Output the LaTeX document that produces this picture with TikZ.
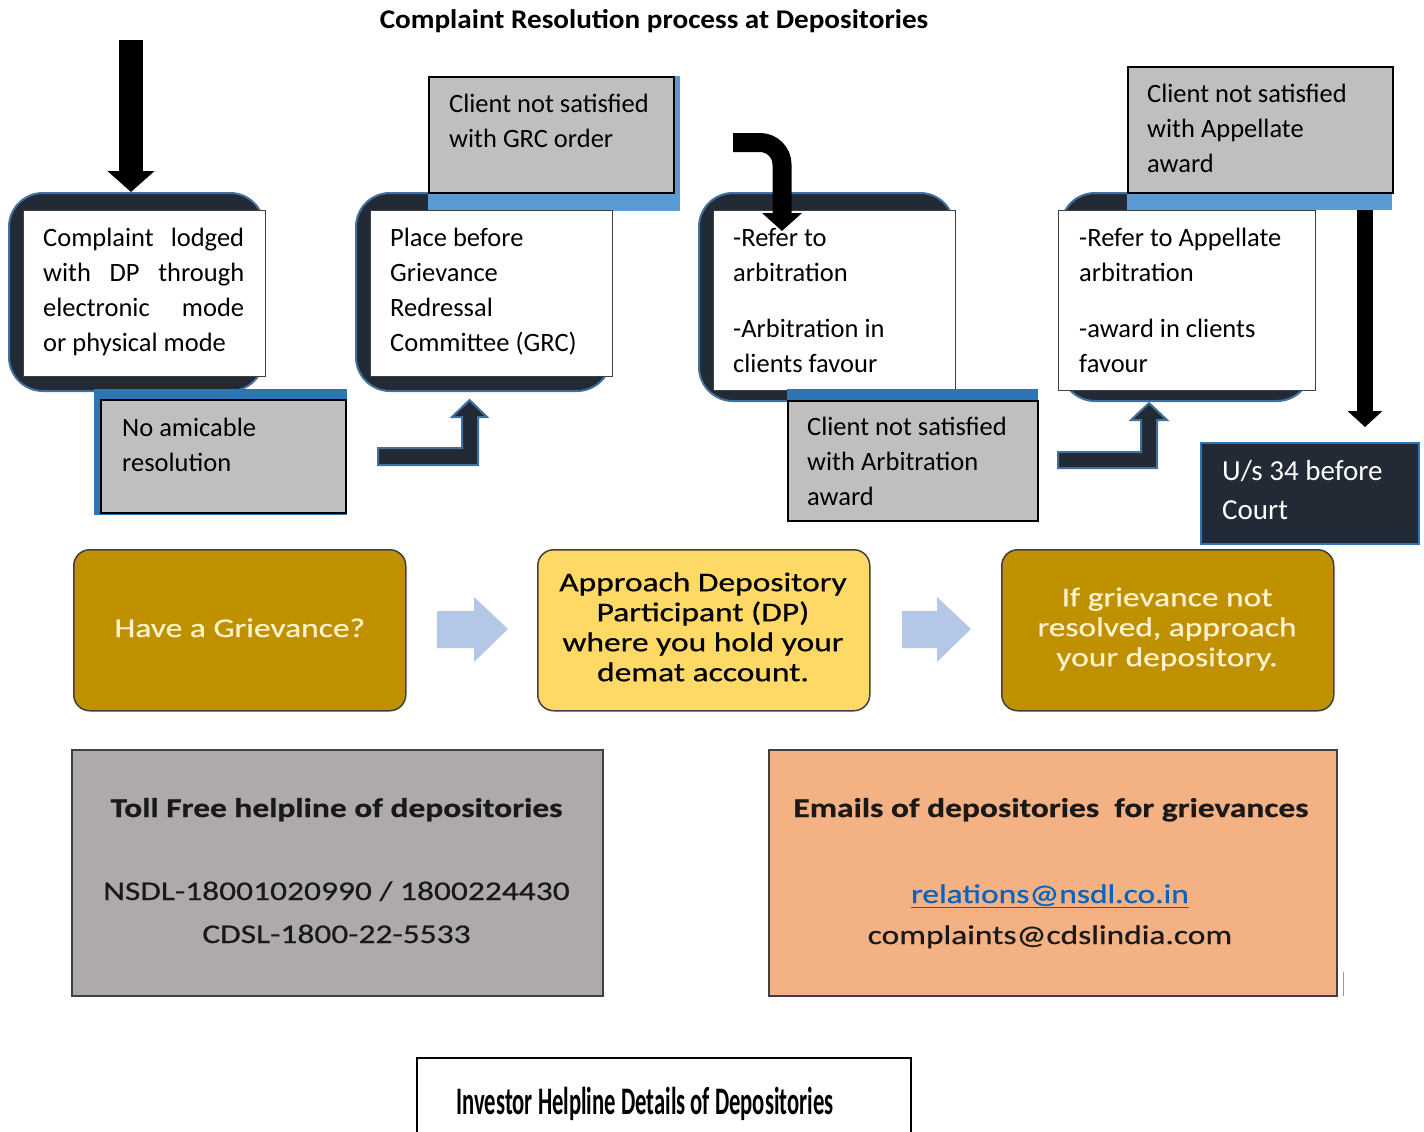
\documentclass[tikz,border=0pt]{standalone}
\usepackage{fontspec}
\setmainfont{Carlito}
\newfontfamily\widef[FakeStretch=1.24,FakeBold=0.6]{Carlito}
\newfontfamily\titlef[FakeStretch=1.08]{Carlito}
\newfontfamily\narrowf[FakeStretch=0.58]{Carlito}
\usetikzlibrary{arrows.meta}
\definecolor{navy}{HTML}{222A35}
\definecolor{outl}{HTML}{41719C}
\definecolor{grayb}{HTML}{BFBFBF}
\definecolor{blueA}{HTML}{2E75B6}
\definecolor{blueB}{HTML}{5B9BD5}
\definecolor{gold}{HTML}{BF9000}
\definecolor{lgold}{HTML}{FFD966}
\definecolor{cream}{HTML}{FFF2CC}
\definecolor{arrowblue}{HTML}{B4C7E7}
\definecolor{graybox}{HTML}{AEAAAA}
\definecolor{orangebox}{HTML}{F4B183}
\definecolor{linkblue}{HTML}{0563C1}
\newcommand\fst{\rule{0pt}{22pt}}
\begin{document}
\begin{tikzpicture}[x=1pt,y=-1pt,
  darkbox/.style={fill=navy,draw=outl,line width=2pt,rounded corners=34pt,anchor=north west,inner sep=0pt},
  whitebox/.style={fill=white,draw=black!75,line width=1.2pt,anchor=north west,inner sep=0pt},
  greybox/.style={fill=grayb,draw=black,line width=2pt,anchor=north west,inner sep=0pt},
  stripA/.style={fill=blueA,anchor=north west,inner sep=0pt},
  stripB/.style={fill=blueB,anchor=north west,inner sep=0pt},
  txt/.style={anchor=north west,inner sep=0pt,align=left,font=\fontsize{26.5}{35}\selectfont},
  midbox/.style={rounded corners=16pt,draw=black!75,line width=1.5pt,anchor=north west,inner sep=0pt,minimum width=332pt,minimum height=161pt},
  midtxt/.style={inner sep=0pt,align=center,font=\widef\fontsize{27}{30}\selectfont},
  infobox/.style={draw=black!75,line width=2pt,anchor=north west,inner sep=0pt,minimum height=246pt},
  infotxt/.style={inner sep=0pt,anchor=base,font=\widef\fontsize{27}{33}\selectfont,text=black!90},
  blk/.style={draw=black},
  bent/.style={fill=navy,draw=outl,line width=2pt,line join=miter},
  lbarrow/.style={fill=arrowblue}
]
\useasboundingbox (0,0) rectangle (1424,1132);

% title
\node[inner sep=0pt,anchor=base,font=\titlef\bfseries\fontsize{27}{30}\selectfont] (title) at (654,29) {Complaint Resolution process at Depositories};

% ---- block 1
\node[darkbox,minimum width=255pt,minimum height=198pt] (b1) at (8,192) {};
\node[whitebox,minimum width=242pt,minimum height=166pt] (w1) at (23,210) {};
\node[txt,align=flush left,text width=201pt] (t1) at (43,224) {\fst Complaint\hfill lodged\\with\hfill DP\hfill through\\electronic\hfill mode\\or physical mode};
\node[stripA,minimum width=253pt,minimum height=126pt] (s1) at (94,389) {};
\node[greybox,minimum width=245pt,minimum height=113pt] (g1) at (100,399) {};
\node[txt] (tg1) at (122,414) {\fst No amicable\\resolution};

% ---- block 2
\node[darkbox,minimum width=255pt,minimum height=198pt] (b2) at (355,192) {};
\node[stripB,minimum width=252pt,minimum height=135pt] (s2) at (428,76) {};
\node[greybox,minimum width=245pt,minimum height=116pt] (g2) at (428,76) {};
\node[txt] (tg2) at (449,90) {\fst Client not satisfied\\with GRC order};
\node[whitebox,minimum width=242pt,minimum height=166pt] (w2) at (370,210) {};
\node[txt] (t2) at (390,224) {\fst Place before\\Grievance\\Redressal\\Committee (GRC)};

% ---- block 3
\node[darkbox,minimum width=255pt,minimum height=208pt] (b3) at (698,192) {};
\node[whitebox,minimum width=242pt,minimum height=180pt] (w3) at (713,210) {};
\node[txt] (t3) at (733,224) {\fst -Refer to\\arbitration\\[21pt]-Arbitration in\\clients favour};
\node[stripA,minimum width=251pt,minimum height=14pt] (s3) at (787,389) {};
\node[greybox,minimum width=250pt,minimum height=120pt] (g3) at (787,400) {};
\node[txt] (tg3) at (807,413) {\fst Client not satisfied\\with Arbitration\\award};

% ---- block 4
\node[darkbox,minimum width=250pt,minimum height=208pt] (b4) at (1060,192) {};
\node[stripB,minimum width=265pt,minimum height=18pt] (s4) at (1127,192) {};
\node[greybox,minimum width=265pt,minimum height=126pt] (g4) at (1127,66) {};
\node[txt] (tg4) at (1147,80) {\fst Client not satisfied\\with Appellate\\award};
\node[whitebox,minimum width=257pt,minimum height=180pt] (w4) at (1058,210) {};
\node[txt] (t4) at (1079,224) {\fst -Refer to Appellate\\arbitration\\[21pt]-award in clients\\favour};

% court box
\node[fill=navy,draw=blueA,line width=2pt,anchor=north west,inner sep=0pt,minimum width=218pt,minimum height=101pt] (court) at (1200,442) {};
\node[txt,text=white,font=\fontsize{29}{39}\selectfont] (tcourt) at (1222,457) {\rule{0pt}{23pt}U/s 34 before\\Court};

% black arrows
\coordinate (a1s) at (131,40);
\draw[blk,line width=24pt,-{Triangle[width=46pt,length=21pt]}] (a1s) -- (a1s |- b1.north);
\coordinate (a3s) at (733,142.5);
\coordinate (a3e) at (782,231);
\draw[blk,line width=19pt,rounded corners=22pt,-{Triangle[width=39pt,length=18pt]}] (a3s) -- (a3s -| a3e) -- (a3e);
\coordinate (a4e) at (1365,427);
\draw[blk,line width=16pt,-{Triangle[width=34pt,length=16pt]}] (s4.south -| a4e) -- (a4e);

% bent arrows
\draw[bent] (378,448) -- (462,448) -- (462,417) -- (452,417) -- (469.5,400) -- (487,417) -- (478,417) -- (478,465) -- (378,465) -- cycle;
\draw[bent] (1058,452) -- (1141,452) -- (1141,420) -- (1131,420) -- (1149,403) -- (1167,420) -- (1157,420) -- (1157,468) -- (1058,468) -- cycle;

% ---- middle row
\node[midbox,fill=gold] (m1) at (73,549) {};
\node[midtxt,anchor=base,text=cream] (tm1) at (m1.center |- 0,637) {Have a Grievance?};
\node[midbox,fill=lgold] (m2) at (537,549) {};
\node[midtxt,anchor=north,text=black] (tm2) at (703,569) {\fst Approach Depository\\Participant (DP)\\where you hold your\\demat account.};
\node[midbox,fill=gold] (m3) at (1001,549) {};
\node[midtxt,anchor=north,text=cream] (tm3) at (1167,584) {\fst If grievance not\\resolved, approach\\your depository.};
\fill[lbarrow] (437,611) -- (474,611) -- (474,597) -- (508,629) -- (474,662) -- (474,648) -- (437,648) -- cycle;
\fill[lbarrow] (902,611) -- (937,611) -- (937,597) -- (971,629) -- (937,662) -- (937,648) -- (902,648) -- cycle;

% ---- bottom boxes
\node[infobox,fill=graybox,minimum width=531pt] (tb) at (71,749) {};
\node[infotxt,font=\widef\bfseries\fontsize{27}{33}\selectfont] (tbt) at (336.5,817) {Toll Free helpline of depositories};
\node[infotxt] (tbn) at (336.5,900) {NSDL-18001020990 / 1800224430};
\node[infotxt] (tbc) at (336.5,943) {CDSL-1800-22-5533};
\node[infobox,fill=orangebox,minimum width=568pt] (eb) at (768,749) {};
\node[infotxt,font=\widef\bfseries\fontsize{27}{33}\selectfont] (ebt) at (1051,817) {Emails of depositories\ \ for grievances};
\node[infotxt,text=linkblue] (ebn) at (1050,903) {\underline{relations@nsdl.co.in}};
\node[infotxt] (ebc) at (1050,944) {complaints@cdslindia.com};
\draw[black!40,line width=1pt] (1343,972) -- (1343,996);

% ---- bottom label
\draw[black,line width=2pt] (417,1132) -- (417,1058) -- (911,1058) -- (911,1132);
\node[inner sep=0pt,anchor=base,font=\narrowf\bfseries\fontsize{39}{40}\selectfont] (inv) at (645,1114) {Investor Helpline Details of Depositories};
\end{tikzpicture}
\end{document}
